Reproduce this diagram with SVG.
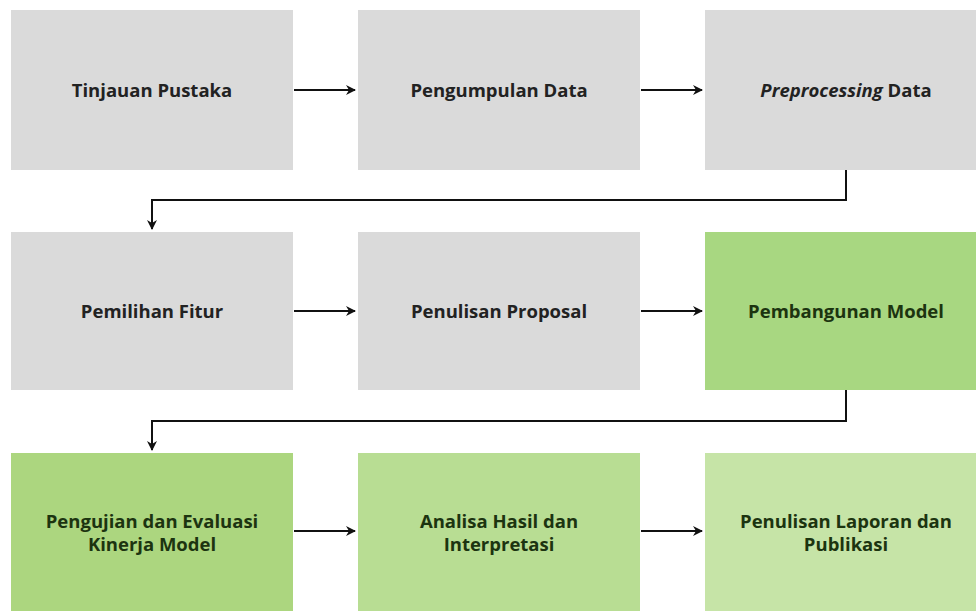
<svg xmlns="http://www.w3.org/2000/svg" width="976" height="611" viewBox="0 0 976 611">
<defs>
<marker id="ah" viewBox="0 0 10 10" refX="9" refY="5" markerWidth="5" markerHeight="5" orient="auto" markerUnits="strokeWidth">
<path d="M0,0 L10,5 L0,10 L3,5 z" fill="#111"/>
</marker>
<style>
.t{font-family:"Open Sans","Liberation Sans",sans-serif;font-weight:bold;font-size:18.5px;text-anchor:middle;fill:#222}
.g{fill:#1c3410}
.c{fill:none;stroke:#111;stroke-width:2}
</style>
</defs>
<rect width="976" height="611" fill="#fff"/>
<g id="n1"><rect x="11" y="10" width="282" height="160" fill="#dadada"/><text class="t" x="152" y="97">Tinjauan Pustaka</text></g>
<g id="n2"><rect x="358" y="10" width="282" height="160" fill="#dadada"/><text class="t" x="499" y="97">Pengumpulan Data</text></g>
<g id="n3"><rect x="705" y="10" width="271" height="160" fill="#dadada"/><text class="t" x="846" y="97"><tspan font-style="italic">Preprocessing</tspan> Data</text></g>
<g id="n4"><rect x="11" y="232" width="282" height="158" fill="#dadada"/><text class="t" x="152" y="318">Pemilihan Fitur</text></g>
<g id="n5"><rect x="358" y="232" width="282" height="158" fill="#dadada"/><text class="t" x="499" y="318">Penulisan Proposal</text></g>
<g id="n6"><rect x="705" y="232" width="271" height="158" fill="#a8d781"/><text class="t g" x="846" y="318">Pembangunan Model</text></g>
<g id="n7"><rect x="11" y="453" width="282" height="158" fill="#acd67f"/><text class="t g" x="152" y="528">Pengujian dan Evaluasi</text><text class="t g" x="152" y="551">Kinerja Model</text></g>
<g id="n8"><rect x="358" y="453" width="282" height="158" fill="#b8dd93"/><text class="t g" x="499" y="528">Analisa Hasil dan</text><text class="t g" x="499" y="551">Interpretasi</text></g>
<g id="n9"><rect x="705" y="453" width="271" height="158" fill="#c6e4a7"/><text class="t g" x="846" y="528">Penulisan Laporan dan</text><text class="t g" x="846" y="551">Publikasi</text></g>
<g id="connectors">
<path class="c" d="M294,90 H355" marker-end="url(#ah)"/>
<path class="c" d="M641,90 H702" marker-end="url(#ah)"/>
<path class="c" d="M846,170 V200 H152 V229" marker-end="url(#ah)"/>
<path class="c" d="M294,311 H355" marker-end="url(#ah)"/>
<path class="c" d="M641,311 H702" marker-end="url(#ah)"/>
<path class="c" d="M846,390 V421 H152 V450" marker-end="url(#ah)"/>
<path class="c" d="M294,531 H355" marker-end="url(#ah)"/>
<path class="c" d="M641,531 H702" marker-end="url(#ah)"/>
</g>
</svg>
